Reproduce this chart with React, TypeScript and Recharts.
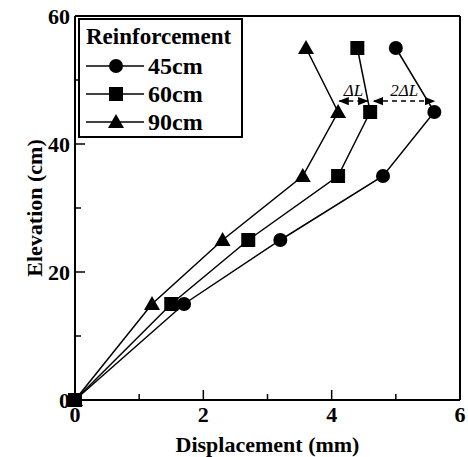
import React from 'react';
import {
  LineChart,
  Line,
  XAxis,
  YAxis,
  Legend,
  ReferenceLine,
  ReferenceDot,
  Label,
} from 'recharts';

// Displacement (mm) vs elevation (cm) for each reinforcement spacing
const elevations = [0, 15, 25, 35, 45, 55];
const disp45 = [0, 1.7, 3.2, 4.8, 5.6, 5.0];
const disp60 = [0, 1.5, 2.7, 4.1, 4.6, 4.4];
const disp90 = [0, 1.2, 2.3, 3.55, 4.1, 3.6];

const xTicks = [0, 1, 2, 3, 4, 5, 6];
const yTicks = [0, 10, 20, 30, 40, 50, 60];

// dashed arrows showing the spread between curves
const arrowY = 46.7;
const dL = { from: 4.12, to: 4.56, label: 'ΔL' };
const dL2 = { from: 4.66, to: 5.6, label: '2ΔL' };

const toPoints = (disp: number[]) => disp.map((x, i) => ({ x, y: elevations[i] }));

const series = [
  { name: '45cm', shape: 'circle', data: toPoints(disp45) },
  { name: '90cm', shape: 'triangle', data: toPoints(disp90) },
  { name: '60cm', shape: 'square', data: toPoints(disp60) },
];
const legendOrder = ['45cm', '60cm', '90cm'];

const FONT = '"Liberation Serif", "Times New Roman", serif';

const Marker = ({ cx, cy, shape }: { cx: number; cy: number; shape: string }) => {
  if (cx == null || cy == null) return null;
  if (shape === 'circle') return <circle cx={cx} cy={cy} r={7} fill="#000" />;
  if (shape === 'square') return <rect x={cx - 7} y={cy - 7} width={14} height={14} fill="#000" />;
  return <polygon points={`${cx},${cy - 8} ${cx - 8},${cy + 6} ${cx + 8},${cy + 6}`} fill="#000" />;
};

const XTick = (props: any) => {
  const { x, y, payload } = props;
  const major = payload.value % 2 === 0;
  return (
    <g>
      <line x1={x} x2={x} y1={y} y2={y - (major ? 10 : 6)} stroke="#000" strokeWidth={1.5} />
      {major && (
        <text x={x} y={y + 22} textAnchor="middle" fontFamily={FONT} fontWeight="bold" fontSize={22} fill="#000">
          {payload.value}
        </text>
      )}
    </g>
  );
};

const YTick = (props: any) => {
  const { x, y, payload } = props;
  const major = payload.value % 20 === 0;
  return (
    <g>
      <line x1={x} x2={x + (major ? 10 : 6)} y1={y} y2={y} stroke="#000" strokeWidth={1.5} />
      {major && (
        <text x={x - 5} y={y + 8} textAnchor="end" fontFamily={FONT} fontWeight="bold" fontSize={22} fill="#000">
          {payload.value}
        </text>
      )}
    </g>
  );
};

const LegendBox = () => (
  <div
    style={{
      border: '2px solid #000',
      background: '#fff',
      width: 165,
      height: 120,
      boxSizing: 'border-box',
      padding: '2px 0 0 6px',
      fontFamily: FONT,
      fontWeight: 'bold',
      color: '#000',
      textAlign: 'left',
    }}
  >
    <div style={{ fontSize: 23, lineHeight: '30px' }}>Reinforcement</div>
    {legendOrder.map((name) => {
      const s = series.find((d) => d.name === name)!;
      return (
        <div key={name} style={{ display: 'flex', alignItems: 'center', height: 28 }}>
          <svg width={60} height={20}>
            <line x1={0} x2={58} y1={10} y2={10} stroke="#000" strokeWidth={1.5} />
            <Marker cx={30} cy={10} shape={s.shape} />
          </svg>
          <span style={{ fontSize: 24, marginLeft: 2 }}>{name}</span>
        </div>
      );
    })}
  </div>
);

export default function App() {
  return (
    <div style={{ position: 'absolute', left: 0, top: 0 }}>
      <LineChart width={468} height={457} margin={{ top: 16, right: 8, bottom: 0, left: 0 }}>
        <defs>
          <marker id="arrowEnd" viewBox="0 0 10 10" refX={9} refY={5} markerWidth={7} markerHeight={7} orient="auto">
            <path d="M0,1 L10,5 L0,9 z" fill="#000" />
          </marker>
          <marker id="arrowStart" viewBox="0 0 10 10" refX={1} refY={5} markerWidth={7} markerHeight={7} orient="auto">
            <path d="M10,1 L0,5 L10,9 z" fill="#000" />
          </marker>
        </defs>
        <XAxis
          type="number"
          dataKey="x"
          domain={[0, 6]}
          ticks={xTicks}
          interval={0}
          tick={<XTick />}
          tickLine={false}
          tickSize={0}
          tickMargin={0}
          height={57}
          axisLine={{ stroke: '#000', strokeWidth: 2 }}
        >
          <Label
            value="Displacement (mm)"
            position="insideBottom"
            offset={5}
            style={{ fontFamily: FONT, fontWeight: 'bold', fontSize: 22, fill: '#000' }}
          />
        </XAxis>
        <YAxis
          type="number"
          dataKey="y"
          domain={[0, 60]}
          ticks={yTicks}
          interval={0}
          tick={<YTick />}
          tickLine={false}
          tickSize={0}
          tickMargin={0}
          width={75}
          axisLine={{ stroke: '#000', strokeWidth: 2 }}
        >
          <Label
            value="Elevation (cm)"
            angle={-90}
            position="insideLeft"
            offset={34}
            style={{ fontFamily: FONT, fontWeight: 'bold', fontSize: 22, fill: '#000', textAnchor: 'middle' }}
          />
        </YAxis>
        <ReferenceLine x={6} stroke="#000" strokeWidth={2} />
        <ReferenceLine y={60} stroke="#000" strokeWidth={2} />
        <Legend
          layout="horizontal"
          verticalAlign="middle"
          align="center"
          content={<LegendBox />}
          wrapperStyle={{ left: 78, top: 18, width: 'auto' }}
        />
        {series.map((s) => (
          <Line
            key={s.name}
            name={s.name}
            data={s.data}
            dataKey="y"
            type="linear"
            stroke="#000"
            strokeWidth={1.5}
            dot={(p: any) => <Marker key={`${s.name}-${p.index}`} cx={p.cx} cy={p.cy} shape={s.shape} />}
            activeDot={false}
            isAnimationActive={false}
            legendType="none"
          />
        ))}
        {[dL, dL2].map((a) => (
          <ReferenceLine
            key={a.label}
            segment={[
              { x: a.from, y: arrowY },
              { x: a.to, y: arrowY },
            ]}
            stroke="#000"
            strokeWidth={1.5}
            strokeDasharray="5 4"
            markerStart="url(#arrowStart)"
            markerEnd="url(#arrowEnd)"
          />
        ))}
        {[dL, dL2].map((a) => (
          <ReferenceDot
            key={`lbl-${a.label}`}
            x={(a.from + a.to) / 2}
            y={arrowY + 1.8}
            r={0}
            stroke="none"
            fill="none"
          >
            <Label
              value={a.label}
              position="center"
              style={{ fontFamily: FONT, fontStyle: 'italic', fontSize: 17, fill: '#000' }}
            />
          </ReferenceDot>
        ))}
      </LineChart>
    </div>
  );
}
